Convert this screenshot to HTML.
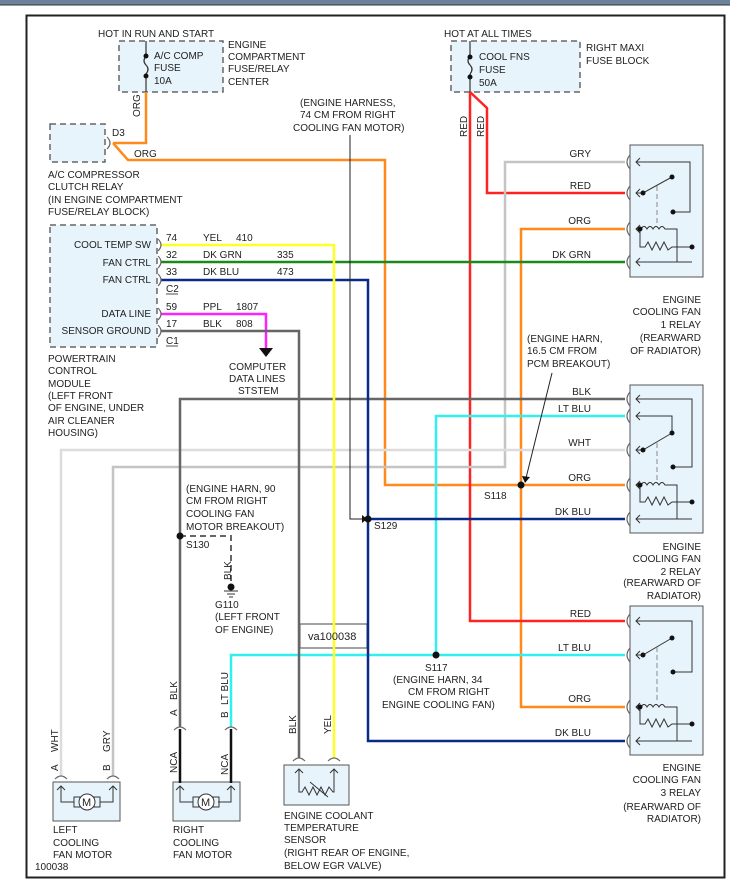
<!DOCTYPE html>
<html><head><meta charset="utf-8"><style>
html,body{margin:0;padding:0;background:#fff;}
svg{display:block;font-family:"Liberation Sans",Arial,sans-serif;font-size:10px;}
text{fill:#222;}
</style></head><body>
<svg width="730" height="885" viewBox="0 0 730 885" xmlns="http://www.w3.org/2000/svg">
<rect x="0" y="0" width="730" height="5" fill="#6d829c"/>
<line x1="0" y1="5" x2="730" y2="5" stroke="#333" stroke-width="1"/>
<rect x="26.5" y="15.5" width="698" height="862" fill="#fff" stroke="#222" stroke-width="2"/>

<g stroke="#666" stroke-width="1.5" stroke-dasharray="6,4" fill="#e8f4fc">
<rect x="119" y="41" width="104" height="51"/>
<rect x="451" y="41" width="129" height="51"/>
<rect x="50" y="124" width="55" height="38"/>
<rect x="50" y="225" width="107" height="122"/>
</g>
<g stroke="#555" stroke-width="1" fill="#e8f4fc">
<rect x="630" y="145" width="73" height="132"/>
<rect x="630" y="385" width="73" height="148"/>
<rect x="630" y="606" width="73" height="149"/>
<rect x="53" y="782" width="67" height="39"/>
<rect x="173" y="782" width="67" height="39"/>
<rect x="284" y="765" width="65" height="40"/>
</g>
<rect x="300" y="624" width="67" height="24" fill="#fff" stroke="#444" stroke-width="1"/>

<g stroke="#333" stroke-width="1.2" fill="none">
<line x1="146" y1="41" x2="146" y2="56"/><path d="M146 56 q-4 5 0 9 q4 4 0 9"/><line x1="146" y1="74" x2="146" y2="92"/>
<line x1="470" y1="41" x2="470" y2="56"/><path d="M470 56 q-4 5 0 9 q4 4 0 9"/><line x1="470" y1="74" x2="470" y2="92"/>
</g>
<g fill="#111"><circle cx="146" cy="56" r="2.5"/><circle cx="146" cy="76" r="2.5"/><circle cx="470" cy="57" r="2.5"/><circle cx="470" cy="77" r="2.5"/></g>

<g fill="none" stroke-width="2.5" stroke-linejoin="miter">
<polyline stroke="#ff8a1c" points="146,92 146,143 113,143"/>
<polyline stroke="#ff8a1c" points="113,143 128,160 385,160 385,485 625,485"/>
<polyline stroke="#ff8a1c" points="625,229 521,229 521,707 625,707"/>
<polyline stroke="#ff2222" points="470,92 470,621 625,621"/>
<polyline stroke="#ff2222" points="470,92 487,108 487,193 625,193"/>
<polyline stroke="#c4c4c4" points="625,162 505,162 505,467 113,467 113,776"/>
<polyline stroke="#dcdcdc" points="625,450 61,450 61,776"/>
<polyline stroke="#666" points="625,399 180,399 180,727"/>
<polyline stroke="#33f0f0" points="625,416 436,416 436,655 625,655"/>
<polyline stroke="#33f0f0" points="436,655 231,655 231,727"/>
<polyline stroke="#0a2a88" points="161,280 368,280 368,741 625,741"/>
<polyline stroke="#0a2a88" points="368,519 625,519"/>
<polyline stroke="#1a8a1a" points="161,262 625,262"/>
<polyline stroke="#ffff22" points="161,245 334,245 334,758"/>
<polyline stroke="#ff22ff" points="161,314 266,314 266,348"/>
<polyline stroke="#666" points="161,331 299,331 299,758"/>
<line stroke="#111" x1="180" y1="729" x2="180" y2="783"/>
<line stroke="#111" x1="231" y1="729" x2="231" y2="783"/>
</g>
<polygon points="259,348 273,348 266,357" fill="#111"/>
<g stroke="#666" stroke-width="2" stroke-dasharray="6,4" fill="none"><polyline points="180,536 231,536 231,585"/></g>
<g fill="#111">
<circle cx="180" cy="536" r="3.5"/><circle cx="368" cy="519" r="3.5"/><circle cx="521" cy="485" r="3.5"/><circle cx="436" cy="655" r="3.5"/><circle cx="231" cy="587" r="3.5"/>
</g>
<g stroke="#333" stroke-width="1"><line x1="224" y1="591" x2="238" y2="591"/><line x1="227" y1="594" x2="235" y2="594"/><line x1="229" y1="597" x2="233" y2="597"/></g>
<g stroke="#222" stroke-width="1" fill="none">
<polyline points="350,135 350,519 362,519"/>
<line x1="552" y1="373" x2="526" y2="478"/>
</g>
<polygon points="362,515 367,519 362,523" fill="#111"/>
<polygon points="522,476 530,477 525,483" fill="#111"/>

<g stroke="#666" stroke-width="1.2" fill="none">
<path d="M630 155 q-6 7 0 14"/><path d="M630 186 q-6 7 0 14"/><path d="M630 222 q-6 7 0 14"/><path d="M630 255 q-6 7 0 14"/>
<path d="M630 392 q-6 7 0 14"/><path d="M630 409 q-6 7 0 14"/><path d="M630 443 q-6 7 0 14"/><path d="M630 478 q-6 7 0 14"/><path d="M630 512 q-6 7 0 14"/>
<path d="M630 614 q-6 7 0 14"/><path d="M630 648 q-6 7 0 14"/><path d="M630 700 q-6 7 0 14"/><path d="M630 734 q-6 7 0 14"/>
<path d="M158 239 q6 6 0 12"/><path d="M158 256 q6 6 0 12"/><path d="M158 274 q6 6 0 12"/><path d="M158 308 q6 6 0 12"/><path d="M158 325 q6 6 0 12"/>
<path d="M107 137 q6 6 0 12"/>
<path d="M55 779 q6 -6 12 0"/><path d="M107 779 q6 -6 12 0"/><path d="M174 730 q6 -6 12 0"/><path d="M225 730 q6 -6 12 0"/><path d="M293 761 q6 -6 12 0"/><path d="M328 761 q6 -6 12 0"/>
</g>

<g stroke="#333" stroke-width="1" fill="none">
<polyline points="636,162 690,162 690,212 673,212"/>
<polyline points="636,193 643,193 672,177"/>
<line x1="657" y1="186" x2="657" y2="225" stroke-dasharray="5,3" stroke="#888"/>
<path d="M636 229 h5 q3 -5 6 0 q3 -5 6 0 q3 -5 6 0 q3 -5 6 0 h12 v33"/>
<polyline points="640,229 640,247 645,247 648,242 652,250 656,242 660,250 664,242 668,250 672,247 692,247"/>
<polyline points="636,262 692,262"/>
<polyline points="636,399 692,399 692,467 673,467"/>
<polyline points="636,416 672,416 672,433"/>
<polyline points="636,450 643,450 672,433"/>
<line x1="657" y1="443" x2="657" y2="480" stroke-dasharray="5,3" stroke="#888"/>
<path d="M636 485 h5 q3 -5 6 0 q3 -5 6 0 q3 -5 6 0 q3 -5 6 0 h12 v34"/>
<polyline points="640,485 640,502 645,502 648,497 652,505 656,497 660,505 664,497 668,505 672,502 692,502"/>
<polyline points="636,519 692,519"/>
<polyline points="636,621 692,621 692,672 673,672"/>
<polyline points="636,655 643,655 672,638"/>
<line x1="657" y1="647" x2="657" y2="702" stroke-dasharray="5,3" stroke="#888"/>
<path d="M636 707 h5 q3 -5 6 0 q3 -5 6 0 q3 -5 6 0 q3 -5 6 0 h12 v34"/>
<polyline points="640,707 640,724 645,724 648,719 652,727 656,719 660,727 664,719 668,727 672,724 692,724"/>
<polyline points="636,741 692,741"/>
<path d="M640 158 l-4 4 l4 4 M640 189 l-4 4 l4 4 M640 225 l-4 4 l4 4 M640 258 l-4 4 l4 4"/>
<path d="M640 395 l-4 4 l4 4 M640 412 l-4 4 l4 4 M640 446 l-4 4 l4 4 M640 481 l-4 4 l4 4 M640 515 l-4 4 l4 4"/>
<path d="M640 617 l-4 4 l4 4 M640 651 l-4 4 l4 4 M640 703 l-4 4 l4 4 M640 737 l-4 4 l4 4"/>
<polyline points="61,786 61,802 74,802"/><polyline points="113,786 113,802 100,802"/>
<rect x="74" y="797" width="6" height="10"/><rect x="94" y="797" width="6" height="10"/>
<circle cx="87" cy="802" r="8" fill="#fff"/>
<polyline points="180,786 180,802 193,802"/><polyline points="231,786 231,802 218,802"/>
<rect x="193" y="797" width="6" height="10"/><rect x="213" y="797" width="6" height="10"/>
<circle cx="206" cy="802" r="8" fill="#fff"/>
<path d="M57 790 l4 -4 l4 4 M109 790 l4 -4 l4 4 M176 790 l4 -4 l4 4 M227 790 l4 -4 l4 4"/>
<polyline points="299,769 299,792 302,792 305,787 309,795 313,787 317,795 321,787 325,795 329,787 333,792 334,792 334,769"/>
<line x1="310" y1="782" x2="328" y2="797"/>
<path d="M295 773 l4 -4 l4 4 M330 773 l4 -4 l4 4"/>
</g>
<g fill="#111">
<circle cx="643" cy="193" r="2.5"/><circle cx="672" cy="177" r="2.5"/><circle cx="673" cy="212" r="2.5"/><circle cx="640" cy="229" r="2.5"/><circle cx="692" cy="247" r="2.5"/>
<circle cx="643" cy="450" r="2.5"/><circle cx="672" cy="433" r="2.5"/><circle cx="673" cy="467" r="2.5"/><circle cx="640" cy="485" r="2.5"/><circle cx="692" cy="502" r="2.5"/>
<circle cx="643" cy="655" r="2.5"/><circle cx="672" cy="638" r="2.5"/><circle cx="673" cy="672" r="2.5"/><circle cx="640" cy="707" r="2.5"/><circle cx="692" cy="724" r="2.5"/>
</g>
<text x="82" y="806" font-size="11">M</text>
<text x="201" y="806" font-size="11">M</text>

<text x="98" y="37">HOT IN RUN AND START</text>
<text x="154" y="59">A/C COMP</text><text x="154" y="71">FUSE</text><text x="154" y="84">10A</text>
<text x="228" y="48">ENGINE</text><text x="228" y="60">COMPARTMENT</text><text x="228" y="72">FUSE/RELAY</text><text x="228" y="85">CENTER</text>
<text transform="translate(140,117) rotate(-90)">ORG</text>
<text x="112" y="136">D3</text><text x="134" y="157">ORG</text>
<text x="48" y="178">A/C COMPRESSOR</text><text x="48" y="190">CLUTCH RELAY</text><text x="48" y="203">(IN ENGINE COMPARTMENT</text><text x="48" y="215">FUSE/RELAY BLOCK)</text>
<text x="300" y="106">(ENGINE HARNESS,</text><text x="300" y="118">74 CM FROM RIGHT</text><text x="293" y="131">COOLING FAN MOTOR)</text>
<text x="444" y="37">HOT AT ALL TIMES</text>
<text x="479" y="60">COOL FNS</text><text x="479" y="73">FUSE</text><text x="479" y="86">50A</text>
<text x="586" y="51">RIGHT MAXI</text><text x="586" y="64">FUSE BLOCK</text>
<text transform="translate(467,137) rotate(-90)">RED</text>
<text transform="translate(484,137) rotate(-90)">RED</text>
<g text-anchor="end">
<text x="591" y="157">GRY</text><text x="591" y="189">RED</text><text x="591" y="224">ORG</text><text x="591" y="258">DK GRN</text>
<text x="591" y="395">BLK</text><text x="591" y="412">LT BLU</text><text x="591" y="446">WHT</text><text x="591" y="481">ORG</text><text x="591" y="515">DK BLU</text>
<text x="591" y="617">RED</text><text x="591" y="651">LT BLU</text><text x="591" y="702">ORG</text><text x="591" y="736">DK BLU</text>
<text x="701" y="303">ENGINE</text><text x="701" y="315">COOLING FAN</text><text x="701" y="328">1 RELAY</text><text x="701" y="341">(REARWARD</text><text x="701" y="354">OF RADIATOR)</text>
<text x="701" y="550">ENGINE</text><text x="701" y="562">COOLING FAN</text><text x="701" y="575">2 RELAY</text><text x="701" y="586">(REARWARD OF</text><text x="701" y="599">RADIATOR)</text>
<text x="701" y="771">ENGINE</text><text x="701" y="783">COOLING FAN</text><text x="701" y="796">3 RELAY</text><text x="701" y="810">(REARWARD OF</text><text x="701" y="822">RADIATOR)</text>
<text x="151" y="248">COOL TEMP SW</text><text x="151" y="266">FAN CTRL</text><text x="151" y="283">FAN CTRL</text><text x="151" y="317">DATA LINE</text><text x="151" y="334">SENSOR GROUND</text>
</g>
<text x="166" y="241">74</text><text x="166" y="258">32</text><text x="166" y="275">33</text><text x="166" y="292">C2</text>
<text x="166" y="310">59</text><text x="166" y="327">17</text><text x="166" y="344">C1</text>
<text x="203" y="241">YEL</text><text x="236" y="241">410</text>
<text x="203" y="258">DK GRN</text><text x="277" y="258">335</text>
<text x="203" y="275">DK BLU</text><text x="277" y="275">473</text>
<text x="203" y="310">PPL</text><text x="236" y="310">1807</text>
<text x="203" y="327">BLK</text><text x="236" y="327">808</text>
<line x1="166" y1="294" x2="178" y2="294" stroke="#222" stroke-width="0.8"/><line x1="166" y1="346" x2="178" y2="346" stroke="#222" stroke-width="0.8"/>
<text x="48" y="362">POWERTRAIN</text><text x="48" y="374">CONTROL</text><text x="48" y="387">MODULE</text><text x="48" y="399">(LEFT FRONT</text><text x="48" y="411">OF ENGINE, UNDER</text><text x="48" y="424">AIR CLEANER</text><text x="48" y="436">HOUSING)</text>
<text x="229" y="370">COMPUTER</text><text x="229" y="382">DATA LINES</text><text x="238" y="394">STSTEM</text>
<text x="527" y="342">(ENGINE HARN,</text><text x="527" y="354">16.5 CM FROM</text><text x="527" y="367">PCM BREAKOUT)</text>
<text x="484" y="499">S118</text><text x="374" y="529">S129</text>
<text x="186" y="492">(ENGINE HARN, 90</text><text x="186" y="504">CM FROM RIGHT</text><text x="186" y="517">COOLING FAN</text><text x="186" y="530">MOTOR BREAKOUT)</text>
<text x="186" y="548">S130</text>
<text transform="translate(231,580) rotate(-90)">BLK</text>
<text x="215" y="608">G110</text><text x="215" y="620">(LEFT FRONT</text><text x="215" y="633">OF ENGINE)</text>
<text x="308" y="640" font-size="11">va100038</text>
<text x="425" y="671">S117</text><text x="393" y="683">(ENGINE HARN, 34</text><text x="408" y="695">CM FROM RIGHT</text><text x="382" y="708">ENGINE COOLING FAN)</text>
<text transform="translate(58,771) rotate(-90)">A</text><text transform="translate(58,752) rotate(-90)">WHT</text>
<text transform="translate(110,771) rotate(-90)">B</text><text transform="translate(110,752) rotate(-90)">GRY</text>
<text transform="translate(177,716) rotate(-90)">A</text><text transform="translate(177,700) rotate(-90)">BLK</text>
<text transform="translate(228,718) rotate(-90)">B</text><text transform="translate(228,705) rotate(-90)">LT BLU</text>
<text transform="translate(177,773) rotate(-90)">NCA</text><text transform="translate(228,775) rotate(-90)">NCA</text>
<text transform="translate(296,734) rotate(-90)">BLK</text><text transform="translate(331,734) rotate(-90)">YEL</text>
<text x="53" y="833">LEFT</text><text x="53" y="846">COOLING</text><text x="53" y="858">FAN MOTOR</text>
<text x="35" y="870">100038</text>
<text x="173" y="833">RIGHT</text><text x="173" y="846">COOLING</text><text x="173" y="858">FAN MOTOR</text>
<text x="284" y="819">ENGINE COOLANT</text><text x="284" y="831">TEMPERATURE</text><text x="284" y="843">SENSOR</text><text x="284" y="856">(RIGHT REAR OF ENGINE,</text><text x="284" y="869">BELOW EGR VALVE)</text>
</svg>
</body></html>
